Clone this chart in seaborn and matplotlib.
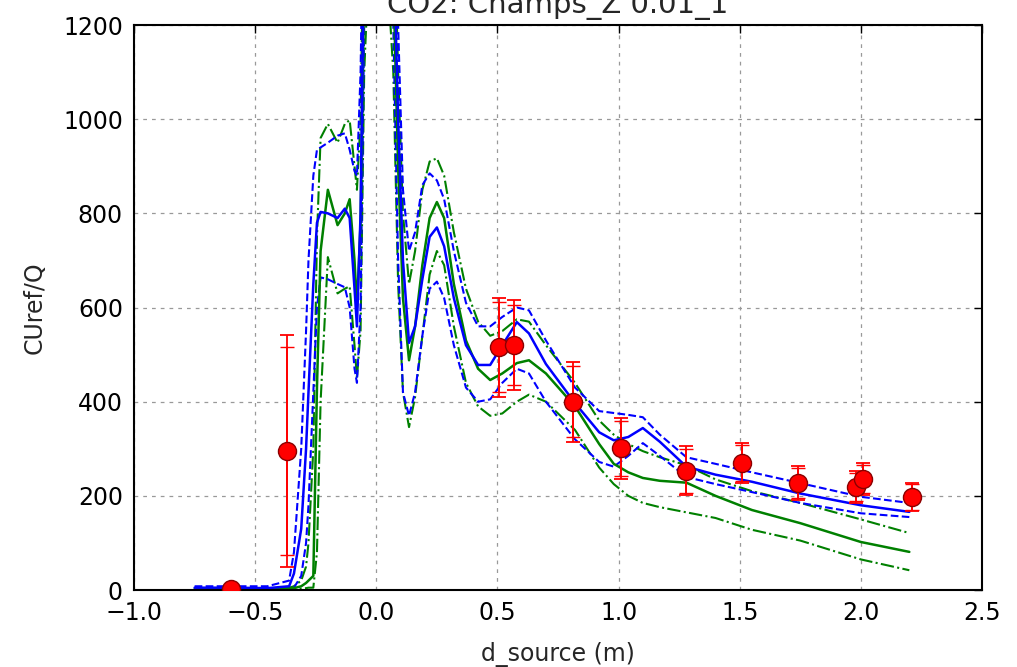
import numpy as np
import pandas as pd
import seaborn as sns
import matplotlib
matplotlib.use("Agg")
import matplotlib.pyplot as plt

# model curves (all on the same d_source grid)
model_x = [-0.75, -0.60, -0.45, -0.36, -0.34, -0.31, -0.29, -0.28, -0.26, -0.245,
           -0.23, -0.20, -0.16, -0.13, -0.11, -0.09, -0.08, -0.065, -0.05, 0.0,
           0.07, 0.09, 0.11, 0.135, 0.16, 0.19, 0.22, 0.25, 0.28, 0.32,
           0.37, 0.42, 0.47, 0.52, 0.58, 0.63, 0.70, 0.82, 0.92, 0.98,
           1.04, 1.10, 1.17, 1.28, 1.40, 1.55, 1.75, 2.00, 2.20]

blue_mean = [5, 5, 4, 8, 35, 130, 300, 420, 650, 780,
             803, 800, 790, 810, 790, 640, 560, 800, 1400, 2000,
             1400, 1000, 700, 525, 560, 660, 750, 770, 730, 620,
             520, 478, 478, 520, 569, 545, 480, 397, 335, 318,
             325, 344, 315, 262, 245, 230, 205, 180, 166]
blue_hi = [8, 8, 8, 20, 80, 300, 550, 700, 880, 935,
           940, 950, 965, 970, 935, 890, 880, 1100, 1600, 2200,
           1600, 1200, 850, 720, 760, 860, 885, 870, 830, 720,
           610, 560, 560, 580, 600, 594, 530, 430, 380, 376,
           372, 367, 330, 282, 268, 250, 227, 198, 185]
blue_lo = [2, 2, 2, 2, 5, 30, 100, 180, 420, 600,
           664, 660, 650, 643, 600, 470, 440, 600, 1200, 1800,
           1200, 700, 420, 370, 420, 540, 640, 655, 620, 520,
           430, 400, 405, 440, 470, 460, 400, 320, 272, 262,
           285, 312, 285, 240, 225, 208, 185, 163, 155]

green_mean = [2, 2, 2, 3, 4, 8, 15, 20, 30, 430,
              720, 850, 775, 800, 830, 700, 600, 780, 1300, 1900,
              1300, 900, 620, 488, 560, 690, 790, 824, 790, 650,
              530, 470, 446, 460, 482, 488, 460, 390, 310, 268,
              250, 238, 232, 228, 200, 170, 142, 102, 81]
green_hi = [3, 3, 3, 5, 8, 20, 50, 100, 300, 750,
            960, 990, 950, 990, 998, 900, 850, 1000, 1500, 2100,
            1500, 1100, 800, 650, 720, 850, 910, 917, 880, 760,
            640, 570, 540, 550, 575, 570, 520, 440, 360, 330,
            310, 295, 282, 265, 235, 210, 185, 150, 121]
green_lo = [1, 1, 1, 1, 2, 3, 4, 5, 5, 80,
            400, 707, 630, 640, 645, 520, 450, 550, 1100, 1700,
            1100, 650, 420, 346, 410, 540, 670, 720, 690, 560,
            440, 390, 370, 375, 400, 415, 400, 340, 260, 225,
            200, 185, 176, 165, 153, 128, 105, 65, 42]

# measurements
obs_x = [-0.60, -0.37, 0.505, 0.57, 0.81, 1.01, 1.28, 1.51, 1.74, 1.98, 2.01, 2.21]
obs_y = [2, 295, 516, 520, 400, 301, 253, 270, 227, 219, 236, 198]
obs_err = [3, 247, 105, 95, 85, 65, 52, 42, 36, 34, 34, 30]
obs_err2 = [2, 221, 95, 85, 75, 58, 46, 38, 32, 30, 30, 27]

sns.set_style("white")
plt.rcParams['font.family'] = ['DejaVu Sans']
plt.rcParams['font.size'] = 17
plt.rcParams['axes.linewidth'] = 1.5

fig = plt.figure(figsize=(10.17, 6.67), dpi=100)
ax = fig.add_axes([0.1318, 0.1154, 0.8338, 0.8471])

df = pd.DataFrame({"x": model_x,
                   "blue_mean": blue_mean, "blue_hi": blue_hi, "blue_lo": blue_lo,
                   "green_mean": green_mean, "green_hi": green_hi, "green_lo": green_lo})

blue = (0, 0, 1)
green = (0, 0.5, 0)

# bands first, then means on top
for col in ["green_hi", "green_lo"]:
    sns.lineplot(data=df, x="x", y=col, ax=ax, color=green, linestyle="-.",
                 linewidth=1.5, estimator=None, sort=False)
for col in ["blue_hi", "blue_lo"]:
    sns.lineplot(data=df, x="x", y=col, ax=ax, color=blue, linestyle="--",
                 linewidth=1.5, estimator=None, sort=False)
sns.lineplot(data=df, x="x", y="green_mean", ax=ax, color=green, linewidth=1.8,
             estimator=None, sort=False)
sns.lineplot(data=df, x="x", y="blue_mean", ax=ax, color=blue, linewidth=1.8,
             estimator=None, sort=False)

# measured points with their two error bars
ax.errorbar(obs_x, obs_y, yerr=obs_err, fmt="none", ecolor="red", elinewidth=1.3,
            capsize=5, capthick=1.3, zorder=4)
ax.errorbar(obs_x, obs_y, yerr=obs_err2, fmt="o", color="red", ecolor="red",
            elinewidth=1.3, capsize=5, capthick=1.3, markersize=13,
            markeredgecolor="#8b0000", markeredgewidth=1, zorder=5)

ax.set_xlim(-1.0, 2.5)
ax.set_ylim(0, 1200)
ax.set_xticks(np.arange(-1.0, 2.51, 0.5))
ax.set_yticks(np.arange(0, 1201, 200))
ax.set_xticklabels([f"{v:.1f}".replace("-", "\u2212") for v in np.arange(-1.0, 2.51, 0.5)])

ax.grid(True, color="0.6", linestyle=(0, (3, 4)), linewidth=0.9)
ax.tick_params(direction="in", length=6, width=1, top=True, right=True, pad=8,
               labelsize=17, colors="black")
for s in ax.spines.values():
    s.set_color("black")
    s.set_linewidth(1.5)

ax.set_xlabel("d_source (m)", fontsize=17, labelpad=12)
ax.set_ylabel("CUref/Q", fontsize=17, labelpad=12)
ax.set_title("CO2: Champs_Z 0.01_1", fontsize=21, pad=9)

fig.savefig("out.png", dpi=100)
